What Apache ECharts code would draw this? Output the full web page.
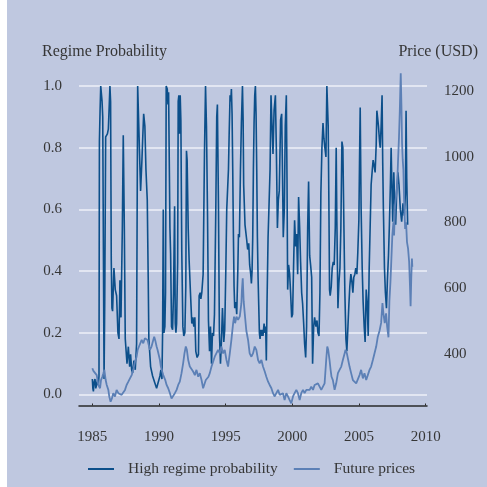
<!DOCTYPE html>
<html>
<head>
<meta charset="utf-8">
<script src="https://cdn.jsdelivr.net/npm/echarts@6/dist/echarts.min.js"></script>
<style>
  html, body { margin: 0; padding: 0; background: #ffffff; }
  #chart { width: 487px; height: 487px; }
</style>
</head>
<body>
<div id="chart"></div>
<script>
// Smoothed probability of the high-volatility regime (decimal years)
const probYears = [
  1985.00,1985.04,1985.08,1985.13,1985.20,1985.26,1985.33,1985.40,1985.45,1985.50,
  1985.53,1985.58,1985.63,1985.68,1985.73,1985.78,1985.88,1985.93,1986.00,1986.13,
  1986.20,1986.27,1986.32,1986.37,1986.42,1986.47,1986.52,1986.62,1986.72,1986.82,
  1986.92,1987.00,1987.07,1987.15,1987.25,1987.32,1987.40,1987.47,1987.60,1987.70,
  1987.80,1987.87,1987.95,1988.02,1988.12,1988.22,1988.32,1988.40,1988.52,1988.62,
  1988.72,1988.77,1988.85,1988.94,1989.02,1989.12,1989.19,1989.24,1989.37,1989.52,
  1989.67,1989.82,1989.97,1990.07,1990.14,1990.22,1990.27,1990.32,1990.37,1990.44,
  1990.49,1990.54,1990.62,1990.67,1990.72,1990.77,1990.82,1990.87,1990.94,1991.02,
  1991.09,1991.17,1991.22,1991.27,1991.32,1991.40,1991.44,1991.49,1991.54,1991.59,
  1991.64,1991.71,1991.79,1991.86,1991.94,1992.01,1992.06,1992.11,1992.19,1992.26,
  1992.36,1992.46,1992.54,1992.61,1992.69,1992.76,1992.86,1992.96,1993.01,1993.09,
  1993.14,1993.21,1993.31,1993.41,1993.49,1993.56,1993.64,1993.71,1993.79,1993.86,
  1993.94,1994.01,1994.09,1994.16,1994.26,1994.33,1994.38,1994.46,1994.53,1994.61,
  1994.68,1994.76,1994.86,1994.93,1995.01,1995.08,1995.21,1995.26,1995.33,1995.38,
  1995.43,1995.48,1995.53,1995.58,1995.63,1995.68,1995.76,1995.83,1995.91,1995.96,
  1996.03,1996.11,1996.18,1996.26,1996.31,1996.35,1996.45,1996.58,1996.65,1996.73,
  1996.80,1996.88,1996.93,1996.98,1997.03,1997.08,1997.13,1997.18,1997.23,1997.28,
  1997.33,1997.38,1997.43,1997.48,1997.53,1997.58,1997.63,1997.68,1997.73,1997.80,
  1997.88,1997.95,1998.00,1998.05,1998.10,1998.18,1998.25,1998.33,1998.40,1998.48,
  1998.55,1998.63,1998.73,1998.80,1998.88,1998.95,1999.02,1999.12,1999.20,1999.25,
  1999.32,1999.40,1999.47,1999.55,1999.60,1999.65,1999.72,1999.80,1999.87,1999.95,
  2000.02,2000.10,2000.17,2000.25,2000.32,2000.40,2000.47,2000.55,2000.62,2000.70,
  2000.77,2000.85,2000.92,2001.00,2001.07,2001.15,2001.22,2001.30,2001.37,2001.45,
  2001.52,2001.60,2001.67,2001.77,2001.85,2001.92,2002.00,2002.07,2002.14,2002.22,
  2002.30,2002.37,2002.44,2002.52,2002.59,2002.64,2002.69,2002.74,2002.79,2002.84,
  2002.92,2002.99,2003.07,2003.14,2003.22,2003.29,2003.34,2003.42,2003.49,2003.57,
  2003.64,2003.72,2003.79,2003.87,2003.94,2004.02,2004.09,2004.17,2004.24,2004.31,
  2004.39,2004.46,2004.54,2004.61,2004.69,2004.76,2004.84,2004.91,2004.99,2005.04,
  2005.09,2005.16,2005.24,2005.31,2005.39,2005.46,2005.54,2005.61,2005.69,2005.76,
  2005.84,2005.91,2006.00,2006.06,2006.14,2006.21,2006.29,2006.34,2006.39,2006.46,
  2006.54,2006.59,2006.66,2006.73,2006.78,2006.83,2006.91,2006.98,2007.06,2007.13,
  2007.21,2007.28,2007.36,2007.41,2007.46,2007.53,2007.61,2007.68,2007.75,2007.83,
  2007.92,2008.00,2008.10,2008.20,2008.30,2008.40,2008.48,2008.53,2008.58,2008.65
];
const probValues = [
  0.05,0.02,0.01,0.04,0.05,0.02,0.015,0.05,0.03,0.06,
  0.82,0.92,1.00,1.00,0.95,0.90,0.05,0.30,0.835,0.845,
  0.86,0.94,1.00,0.95,0.435,0.28,0.27,0.41,0.34,0.32,
  0.20,0.18,0.37,0.25,0.54,0.84,0.54,0.18,0.10,0.155,
  0.09,0.13,0.08,0.07,0.11,0.08,0.165,1.00,1.00,0.66,
  0.76,0.82,0.91,0.87,0.73,0.63,0.38,0.18,0.09,0.06,
  0.04,0.02,0.015,0.06,0.08,0.05,0.20,0.60,0.20,0.22,
  0.33,1.00,0.99,0.94,0.98,0.76,0.54,0.457,0.22,0.21,
  0.33,0.61,0.23,0.20,0.23,0.43,0.95,0.97,0.845,0.97,
  0.89,0.457,0.22,0.19,0.20,0.35,0.79,0.76,0.54,0.435,
  0.33,0.23,0.25,0.22,0.25,0.14,0.12,0.13,0.32,0.33,
  0.31,0.33,0.39,0.78,1.00,0.87,0.58,0.24,0.14,0.22,
  0.10,0.20,0.19,0.26,0.60,0.90,0.94,0.61,0.20,0.10,
  0.17,0.28,0.17,0.21,0.40,0.60,0.73,0.84,0.97,0.95,
  0.99,0.91,0.73,0.52,0.35,0.28,0.30,0.26,0.40,0.52,
  0.51,0.73,0.88,1.00,0.89,0.68,0.55,0.50,0.47,0.49,
  0.42,0.39,0.36,0.40,0.51,0.73,0.88,0.97,1.00,0.91,
  0.73,0.51,0.38,0.29,0.20,0.18,0.21,0.19,0.21,0.19,
  0.23,0.20,0.22,0.11,0.29,0.51,0.61,0.73,0.97,0.87,
  0.78,0.92,0.97,0.80,0.54,0.63,0.66,0.89,0.91,0.76,
  0.51,0.60,0.87,0.97,0.70,0.34,0.42,0.39,0.33,0.25,
  0.26,0.43,0.565,0.48,0.52,0.39,0.64,0.54,0.43,0.33,
  0.295,0.23,0.165,0.12,0.22,0.54,0.69,0.45,0.42,0.38,
  0.10,0.22,0.25,0.22,0.24,0.20,0.19,0.33,0.65,0.80,
  0.88,0.83,0.80,0.77,1.00,1.00,0.87,0.63,0.34,0.32,
  0.35,0.41,0.43,0.42,0.54,0.80,0.56,0.28,0.36,0.41,
  0.54,0.82,0.80,0.54,0.33,0.18,0.14,0.22,0.29,0.35,
  0.39,0.37,0.33,0.38,0.39,0.41,0.39,0.46,0.565,0.76,
  0.93,0.60,0.41,0.30,0.22,0.17,0.34,0.30,0.19,0.40,
  0.55,0.68,0.73,0.76,0.74,0.72,0.81,0.92,0.90,0.87,
  0.82,0.80,0.87,0.97,0.75,0.60,0.41,0.33,0.28,0.37,
  0.45,0.55,0.69,0.80,0.69,0.56,0.72,0.62,0.55,0.66,
  0.72,0.68,0.60,0.56,0.62,0.58,0.65,0.92,0.70,0.55
];

// Futures price in USD (decimal years)
const priceYears = [
  1985.00,1985.08,1985.20,1985.33,1985.45,1985.58,1985.65,1985.75,1985.83,1985.90,
  1986.00,1986.08,1986.20,1986.27,1986.37,1986.47,1986.57,1986.70,1986.82,1986.95,
  1987.07,1987.20,1987.32,1987.45,1987.57,1987.70,1987.82,1987.95,1988.07,1988.20,
  1988.32,1988.40,1988.50,1988.57,1988.70,1988.82,1988.94,1989.07,1989.14,1989.24,
  1989.32,1989.44,1989.57,1989.64,1989.74,1989.82,1989.89,1989.99,1990.07,1990.14,
  1990.24,1990.32,1990.39,1990.47,1990.57,1990.69,1990.82,1990.94,1991.07,1991.19,
  1991.32,1991.44,1991.56,1991.69,1991.81,1991.91,1992.01,1992.09,1992.19,1992.31,
  1992.44,1992.56,1992.69,1992.81,1992.94,1993.06,1993.19,1993.31,1993.44,1993.51,
  1993.61,1993.71,1993.81,1993.94,1994.06,1994.18,1994.31,1994.43,1994.56,1994.68,
  1994.81,1994.93,1995.06,1995.18,1995.31,1995.43,1995.56,1995.63,1995.71,1995.81,
  1995.93,1996.06,1996.18,1996.22,1996.28,1996.35,1996.43,1996.55,1996.68,1996.80,
  1996.93,1997.05,1997.18,1997.30,1997.43,1997.55,1997.68,1997.80,1997.93,1998.05,
  1998.18,1998.30,1998.43,1998.55,1998.68,1998.80,1998.93,1999.05,1999.17,1999.30,
  1999.42,1999.55,1999.67,1999.80,1999.92,2000.05,2000.17,2000.30,2000.42,2000.55,
  2000.67,2000.80,2000.92,2001.05,2001.17,2001.30,2001.42,2001.55,2001.67,2001.79,
  2001.92,2002.04,2002.17,2002.29,2002.42,2002.54,2002.62,2002.69,2002.79,2002.87,
  2002.94,2003.04,2003.17,2003.29,2003.42,2003.54,2003.67,2003.79,2003.92,2003.99,
  2004.09,2004.19,2004.29,2004.41,2004.54,2004.66,2004.79,2004.91,2005.04,2005.16,
  2005.29,2005.41,2005.54,2005.66,2005.79,2005.91,2006.04,2006.16,2006.29,2006.41,
  2006.54,2006.66,2006.76,2006.83,2006.93,2007.03,2007.11,2007.21,2007.28,2007.36,
  2007.43,2007.50,2007.58,2007.63,2007.70,2007.78,2007.86,2007.93,2008.00,2008.06,
  2008.13,2008.18,2008.23,2008.28,2008.33,2008.38,2008.46,2008.53,2008.60,2008.68,
  2008.76,2008.82,2008.87,2008.92,2008.97,2009.00
];
const priceValues = [
  356,348,346,335,305,295,320,330,341,351,
  320,305,290,270,254,264,280,270,290,280,
  275,275,280,290,305,315,320,335,351,376,
  391,412,422,422,442,432,447,452,442,437,
  412,422,442,452,437,422,412,412,381,361,
  346,335,341,320,305,295,280,264,259,280,
  290,305,315,341,371,401,422,412,381,361,
  356,346,335,351,330,341,320,295,300,320,
  315,330,341,361,376,391,386,412,401,422,
  401,412,381,361,401,442,493,513,493,513,
  503,514,554,594,630,560,523,470,442,401,
  391,401,422,412,381,371,381,361,346,330,
  315,305,295,280,270,280,290,275,270,280,
  259,280,270,259,249,270,280,290,280,259,
  280,290,280,290,295,290,300,290,305,300,
  310,305,290,290,310,381,422,412,381,351,
  330,320,290,310,341,351,361,381,401,412,
  401,381,361,341,320,315,310,315,335,351,
  325,341,320,335,351,361,381,401,422,452,
  470,494,554,523,493,523,483,450,560,620,
  690,760,800,760,850,880,910,990,1060,1140,
  1254,1160,1040,990,960,870,780,800,740,720,
  680,610,545,630,690,665
];

// Axis tick values
const yearTicks = [1985, 1990, 1995, 2000, 2005, 2010];
const probTicks = [0, 0.2, 0.4, 0.6, 0.8, 1.0];
const priceTicks = [400, 600, 800, 1000, 1200];

const FONT = '"Liberation Serif", "DejaVu Serif", serif';
const INK = '#363636';
const PROB_COLOR = '#0c4f8a';
const PRICE_COLOR = '#5c80b6';

const pairs = (xs, ys) => xs.map((x, i) => [x, ys[i]]);

const chart = echarts.init(document.getElementById('chart'), null, { renderer: 'canvas' });
chart.setOption({
  animation: false,
  backgroundColor: '#bfc8e0',
  textStyle: { fontFamily: FONT, color: INK },
  grid: { left: 79, right: 60, top: 86, bottom: 92.5 },
  graphic: [
    { type: 'rect', silent: true, shape: { x: 0, y: 0, width: 7, height: 487 }, style: { fill: '#ffffff' } },
    { type: 'text', left: 42, top: 44, style: { text: 'Regime Probability', font: '16px ' + FONT, fill: INK } },
    { type: 'text', right: 9, top: 44, style: { text: 'Price (USD)', font: '16px ' + FONT, fill: INK } }
  ],
  legend: {
    left: 83, top: 456,
    icon: 'rect', itemWidth: 26, itemHeight: 2, itemGap: 16,
    textStyle: { fontFamily: FONT, fontSize: 15.5, color: INK, padding: [0, 0, 0, 9] },
    data: ['High regime probability', 'Future prices']
  },
  xAxis: {
    type: 'value', min: 1984, max: 2010.1, offset: 11,
    axisLine: { show: true, onZero: false, lineStyle: { color: '#2a2a2a', width: 1.5 } },
    axisTick: { show: true, inside: true, length: 2, customValues: yearTicks, lineStyle: { color: '#2a2a2a' } },
    axisLabel: { customValues: yearTicks, margin: 24, fontFamily: FONT, fontSize: 15, color: INK, formatter: v => String(v) },
    splitLine: { show: false }
  },
  yAxis: [
    {
      type: 'value', min: 0, max: 1, interval: 0.2,
      axisLine: { show: false }, axisTick: { show: false },
      axisLabel: { customValues: probTicks, margin: 17, fontFamily: FONT, fontSize: 15, color: INK, formatter: v => v.toFixed(1) },
      splitLine: { show: true, lineStyle: { color: '#eef1f8', width: 1.5 } }
    },
    {
      type: 'value', min: 276, max: 1215, position: 'right',
      axisLine: { show: false }, axisTick: { show: false },
      axisLabel: { customValues: priceTicks, margin: 17, fontFamily: FONT, fontSize: 15, color: INK, formatter: v => String(v) },
      splitLine: { show: false }
    }
  ],
  series: [
    {
      name: 'High regime probability', type: 'line', yAxisIndex: 0,
      data: pairs(probYears, probValues),
      showSymbol: false, clip: false,
      lineStyle: { color: PROB_COLOR, width: 1.6 }, itemStyle: { color: PROB_COLOR }
    },
    {
      name: 'Future prices', type: 'line', yAxisIndex: 1,
      data: pairs(priceYears, priceValues),
      showSymbol: false, clip: false,
      lineStyle: { color: PRICE_COLOR, width: 1.8 }, itemStyle: { color: PRICE_COLOR }
    }
  ]
});
</script>
</body>
</html>
